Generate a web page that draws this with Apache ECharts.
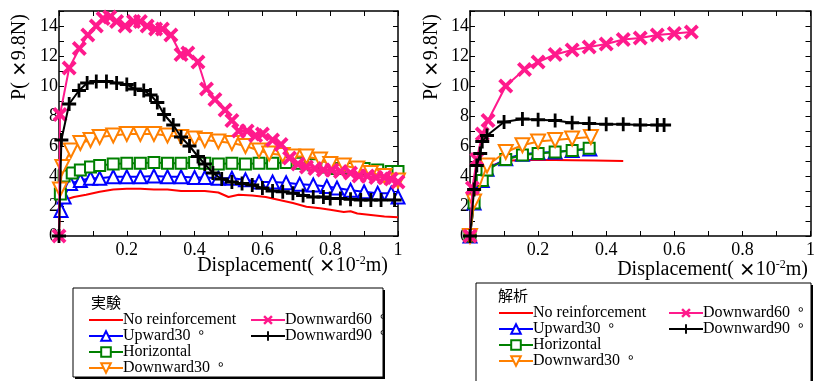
<!DOCTYPE html>
<html>
<head>
<meta charset="utf-8">
<script src="https://cdn.jsdelivr.net/npm/echarts@6/dist/echarts.min.js"></script>
<style>html,body{margin:0;padding:0;background:#fff}#c{width:818px;height:381px}</style>
</head>
<body>
<div id="c"></div>
<script>
// ---- Data: experiment (left) ----
const seriesNames = ['No reinforcement', 'Upward30 °', 'Horizontal', 'Downward30 °', 'Downward60 °', 'Downward90 °'];
const xTickLabels = ['0.2', '0.4', '0.6', '0.8', '1'];
const yTickLabels = ['0', '2', '4', '6', '8', '10', '12', '14'];

const expNoReinf = [[0,0],[0.003,1.95],[0.015,2.4],[0.044,2.6],[0.08,2.75],[0.12,2.95],[0.16,3.1],[0.2,3.15],[0.24,3.15],[0.28,3.1],[0.32,3.1],[0.36,3.0],[0.4,3.0],[0.43,3.0],[0.47,2.9],[0.5,2.6],[0.53,2.75],[0.57,2.7],[0.61,2.6],[0.65,2.4],[0.69,2.2],[0.73,1.95],[0.77,1.85],[0.8,1.75],[0.84,1.6],[0.86,1.65],[0.88,1.5],[0.92,1.4],[0.96,1.3],[1.0,1.25]];
const expUpward30 = [[0.006,1.7],[0.015,2.6],[0.034,3.5],[0.063,3.7],[0.093,3.85],[0.12,3.85],[0.16,3.95],[0.2,3.95],[0.24,3.95],[0.28,4.0],[0.32,3.95],[0.36,3.95],[0.4,3.9],[0.43,3.9],[0.47,3.85],[0.51,3.85],[0.55,3.75],[0.59,3.6],[0.63,3.6],[0.67,3.55],[0.71,3.45],[0.75,3.4],[0.79,3.3],[0.82,3.2],[0.86,3.05],[0.9,2.95],[0.94,2.85],[0.98,2.85],[1.0,2.6]];
const expHorizontal = [[0.004,2.8],[0.015,4.0],[0.039,4.2],[0.063,4.4],[0.093,4.6],[0.12,4.7],[0.16,4.8],[0.2,4.85],[0.24,4.85],[0.28,4.9],[0.32,4.85],[0.36,4.85],[0.4,4.9],[0.43,4.85],[0.47,4.8],[0.51,4.85],[0.55,4.8],[0.59,4.85],[0.63,4.85],[0.67,4.9],[0.71,4.85],[0.75,4.75],[0.79,4.6],[0.82,4.5],[0.86,4.5],[0.9,4.5],[0.94,4.4],[0.98,4.3],[1.0,4.3]];
const expDownward30 = [[0.003,3.1],[0.01,4.6],[0.035,5.7],[0.063,6.2],[0.093,6.4],[0.12,6.6],[0.16,6.7],[0.2,6.8],[0.24,6.8],[0.28,6.8],[0.32,6.7],[0.36,6.6],[0.4,6.5],[0.43,6.4],[0.47,6.3],[0.51,6.2],[0.55,6.0],[0.59,5.7],[0.62,5.5],[0.66,5.4],[0.69,5.3],[0.73,5.3],[0.77,5.1],[0.8,4.8],[0.84,4.7],[0.88,4.5],[0.92,4.2],[0.96,4.0],[1.0,3.7]];
const expDownward60 = [[0,0],[0.003,8.1],[0.03,11.2],[0.06,12.5],[0.085,13.4],[0.11,14.0],[0.13,14.5],[0.15,14.6],[0.17,14.3],[0.195,14.0],[0.22,14.3],[0.24,14.3],[0.26,14.0],[0.285,13.8],[0.305,13.8],[0.33,13.4],[0.36,12.1],[0.38,12.2],[0.41,11.6],[0.435,9.8],[0.46,9.1],[0.49,8.4],[0.51,7.7],[0.53,7.0],[0.555,7.0],[0.58,6.7],[0.6,6.8],[0.63,6.4],[0.655,6.1],[0.68,5.2],[0.705,4.8],[0.73,4.6],[0.755,4.5],[0.78,4.4],[0.805,4.4],[0.83,4.3],[0.86,4.2],[0.885,4.0],[0.91,4.0],[0.935,3.9],[0.96,3.9],[0.98,3.8],[1.0,3.6]];
const expDownward90 = [[0,0],[0.007,6.4],[0.03,8.8],[0.059,9.7],[0.083,10.2],[0.11,10.3],[0.14,10.3],[0.17,10.2],[0.2,10.1],[0.224,9.8],[0.25,9.7],[0.27,9.4],[0.29,8.9],[0.31,8.1],[0.337,7.4],[0.36,6.6],[0.385,6.0],[0.41,5.3],[0.43,4.8],[0.454,4.2],[0.48,3.8],[0.51,3.6],[0.54,3.5],[0.57,3.4],[0.6,3.2],[0.63,3.0],[0.66,2.95],[0.69,2.85],[0.72,2.7],[0.75,2.6],[0.78,2.6],[0.8,2.5],[0.83,2.5],[0.86,2.45],[0.89,2.4],[0.92,2.4],[0.95,2.4],[0.99,2.4]];

// ---- Data: analysis (right) ----
const anaNoReinf = [[0,0],[0.012,2.4],[0.03,3.7],[0.06,4.6],[0.1,4.95],[0.15,5.07],[0.2,5.07],[0.3,5.05],[0.45,5.0]];
const anaUpward30 = [[0,0],[0.012,2.2],[0.036,3.7],[0.05,4.45],[0.105,5.15],[0.154,5.45],[0.2,5.55],[0.25,5.6],[0.3,5.7],[0.352,5.8]];
const anaHorizontal = [[0,0],[0.012,2.2],[0.036,3.7],[0.05,4.4],[0.105,5.1],[0.154,5.4],[0.2,5.5],[0.25,5.6],[0.3,5.7],[0.35,5.85]];
const anaDownward30 = [[0,0],[0.012,2.3],[0.05,4.7],[0.105,5.6],[0.154,6.05],[0.2,6.3],[0.25,6.4],[0.3,6.5],[0.355,6.6]];
const anaDownward60 = [[0,0],[0.007,3.2],[0.02,5.1],[0.036,6.8],[0.053,7.7],[0.105,10.0],[0.16,11.1],[0.2,11.6],[0.25,12.1],[0.3,12.4],[0.35,12.6],[0.4,12.8],[0.45,13.1],[0.5,13.2],[0.55,13.4],[0.6,13.5],[0.65,13.6]];
const anaDownward90 = [[0,0],[0.012,3.1],[0.02,4.7],[0.03,5.5],[0.036,6.3],[0.05,6.7],[0.1,7.6],[0.154,7.8],[0.2,7.75],[0.25,7.7],[0.3,7.55],[0.35,7.5],[0.4,7.45],[0.45,7.45],[0.5,7.4],[0.55,7.4],[0.57,7.4]];

// ---- Styles ----
const SERIF = '"Liberation Serif", "Times New Roman", serif';
const CJK = '"Noto Sans CJK JP", sans-serif';
const markerX = 'path://M0,1.8L1.8,0L5,3.2L8.2,0L10,1.8L6.8,5L10,8.2L8.2,10L5,6.8L1.8,10L0,8.2L3.2,5Z';
const markerPlus = 'path://M4,0H6V4H10V6H6V10H4V6H0V4H4Z';
const markerTri = 'path://M5,0L10,9L0,9Z';
const markerInvTri = 'path://M0,0L10,0L5,9Z';

const styles = [
  { color: '#ff0000', symbol: 'none', size: 0, hollow: false },
  { color: '#0000ff', symbol: markerTri, size: 13, hollow: true },
  { color: '#008000', symbol: 'rect', size: 11, hollow: true },
  { color: '#ff8000', symbol: markerInvTri, size: 14, hollow: true },
  { color: '#ff1a8c', symbol: markerX, size: 15, hollow: false },
  { color: '#000000', symbol: markerPlus, size: 14, hollow: false }
];

const expData = [expNoReinf, expUpward30, expHorizontal, expDownward30, expDownward60, expDownward90];
const anaData = [anaNoReinf, anaUpward30, anaHorizontal, anaDownward30, anaDownward60, anaDownward90];

function mkSeries(i, data, axisIdx, smoothRed) {
  const st = styles[i];
  return {
    name: seriesNames[i],
    type: 'line',
    xAxisIndex: axisIdx,
    yAxisIndex: axisIdx,
    data: data,
    symbol: st.symbol,
    showSymbol: st.symbol !== 'none',
    symbolSize: st.size,
    smooth: (i === 0 && smoothRed) ? 0.3 : false,
    lineStyle: { color: st.color, width: 2 },
    itemStyle: st.hollow
      ? { color: '#ffffff', borderColor: st.color, borderWidth: 2 }
      : { color: st.color, borderWidth: 0 },
    emphasis: { disabled: true },
    animation: false,
    z: 2 + i
  };
}

const series = [];
expData.forEach((d, i) => series.push(mkSeries(i, d, 0, false)));
anaData.forEach((d, i) => series.push(mkSeries(i, d, 2, true)));

const grids = [
  { left: 59, top: 11, width: 339, height: 225 },
  { left: 470, top: 11, width: 341, height: 225 }
];

const axisLine = { show: true, onZero: false, lineStyle: { color: '#000', width: 1.5 } };
const tick = { show: true, inside: true, length: 5, lineStyle: { color: '#000', width: 1 } };
const labelFont = { fontFamily: SERIF, fontSize: 18, color: '#000' };

function xAx(grid, pos, showLabel) {
  return {
    type: 'value', gridIndex: grid, position: pos, min: 0, max: 1, interval: 0.1,
    axisLine: axisLine, axisTick: tick, splitLine: { show: false },
    axisLabel: Object.assign({
      show: showLabel, margin: 5,
      formatter: v => { const k = Math.round(v * 10); return (k > 0 && k % 2 === 0) ? xTickLabels[k / 2 - 1] : ''; }
    }, labelFont)
  };
}
function yAx(grid, pos, showLabel) {
  return {
    type: 'value', gridIndex: grid, position: pos, min: 0, max: 15, interval: 1,
    axisLine: axisLine, axisTick: tick, splitLine: { show: false },
    axisLabel: Object.assign({
      show: showLabel, margin: 1,
      formatter: v => { const k = Math.round(v); return (k % 2 === 0) ? yTickLabels[k / 2] : ''; }
    }, labelFont)
  };
}

function legendCol(names, left, top) {
  return {
    data: names.map(n => n === seriesNames[0]
      ? { name: n, itemStyle: { opacity: 0 } }
      : { name: n }),
    left: left, top: top, orient: 'vertical',
    itemWidth: 34, itemHeight: 12, itemGap: 0, padding: 0, selectedMode: false,
    formatter: n => n.replace(' °', '  {d|°}'),
    textStyle: { fontFamily: SERIF, fontSize: 16, color: '#000', padding: [0, 0, 0, -5], lineHeight: 15.5,
      rich: { d: { fontFamily: CJK, fontSize: 15, color: '#000', lineHeight: 15.5 } } }
  };
}

const xTitleRich = { fontFamily: SERIF, fontSize: 20, fill: '#000',
  rich: { m: { fontFamily: CJK, fontSize: 17, fontWeight: 'bold' }, sup: { fontFamily: SERIF, fontSize: 12, verticalAlign: 'top', padding: [0,0,10,0] } } };

function titleText(x, y, rot, text, align) {
  return {
    type: 'text', x: x, y: y, rotation: rot, silent: true,
    style: Object.assign({ text: text, align: align, verticalAlign: 'middle' }, xTitleRich)
  };
}

const option = {
  animation: false,
  grid: grids,
  xAxis: [xAx(0, 'bottom', true), xAx(0, 'top', false), xAx(1, 'bottom', true), xAx(1, 'top', false)],
  yAxis: [yAx(0, 'left', true), yAx(0, 'right', false), yAx(1, 'left', true), yAx(1, 'right', false)],
  legend: [
    legendCol(seriesNames.slice(0, 4), 88, 312),
    legendCol(seriesNames.slice(4, 6), 250, 312),
    legendCol(seriesNames.slice(0, 4), 498, 305),
    legendCol(seriesNames.slice(4, 6), 668, 305)
  ],
  graphic: [
    { type: 'rect', z: -2, silent: true, shape: { x: 75, y: 290, width: 310, height: 89 }, style: { fill: '#000' } },
    { type: 'rect', z: -1, silent: true, shape: { x: 73, y: 288, width: 310, height: 89 }, style: { fill: '#fff', stroke: '#000', lineWidth: 1 } },
    { type: 'rect', z: -2, silent: true, shape: { x: 478, y: 285, width: 335, height: 110 }, style: { fill: '#000' } },
    { type: 'rect', z: -1, silent: true, shape: { x: 476, y: 283, width: 335, height: 110 }, style: { fill: '#fff', stroke: '#000', lineWidth: 1 } },
    { type: 'text', silent: true, x: 91, y: 302, style: { text: '実験', fontFamily: CJK, fontSize: 15, fill: '#000', verticalAlign: 'middle' } },
    { type: 'text', silent: true, x: 498, y: 295, style: { text: '解析', fontFamily: CJK, fontSize: 15, fill: '#000', verticalAlign: 'middle' } },
    titleText(388, 266, 0, 'Displacement( {m|×}10{sup|-2}m)', 'right'),
    titleText(808, 270, 0, 'Displacement( {m|×}10{sup|-2}m)', 'right'),
    titleText(20, 57, Math.PI / 2, 'P( {m|×}9.8N)', 'center'),
    titleText(432, 57, Math.PI / 2, 'P( {m|×}9.8N)', 'center')
  ],
  series: series
};

const chart = echarts.init(document.getElementById('c'), null, { renderer: 'canvas' });
chart.setOption(option);
</script>
</body>
</html>
